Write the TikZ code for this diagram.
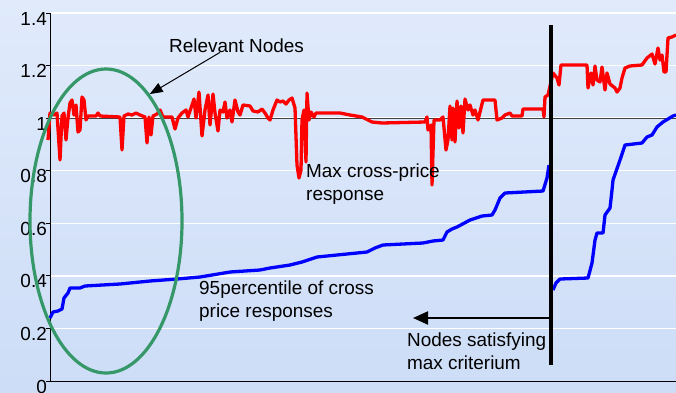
\documentclass[tikz,border=0pt]{standalone}
\usepackage{fontspec}
\setmainfont{Liberation Sans}
\usetikzlibrary{positioning, calc, arrows.meta, shapes.geometric}

\definecolor{paneltop}{RGB}{224,234,251}
\definecolor{panelbot}{RGB}{205,221,247}
\definecolor{ringgreen}{RGB}{54,152,104}

\begin{document}
\begin{tikzpicture}[x=1bp, y=-1bp, font=\fontsize{19}{23}\selectfont,
    gridline/.style={white, line width=1.5bp},
    maxline/.style={red, line width=3.3bp, line join=round},
    pctline/.style={blue, line width=3.3bp, line join=round},
    pointer/.style={-{Triangle[length=13bp,width=10bp]}, line width=1bp},
    bigpointer/.style={-{Triangle[length=15bp,width=13bp]}, line width=2.2bp},
    note/.style={anchor=base west, inner sep=0, align=left}]
    \useasboundingbox (0,0) rectangle (676,392);
    \shade[top color=paneltop, bottom color=panelbot] (0,0) rectangle (676,392);
    % grid and axes
    \foreach \k in {1,...,7}
        \draw[gridline] (50,{381-52.57*\k}) -- (676,{381-52.57*\k});
    \draw[black!75, line width=1bp] (50,118.3) -- (676,118.3);
    \draw[line width=1bp] (50,13) -- (50,381) -- (676,381);
    \foreach \k/\lab in {0/0,1/0.2,2/0.4,3/0.6,4/0.8,5/1,6/1.2,7/1.4} {
        \draw[line width=0.8bp] (46,{381-52.57*\k}) -- (50,{381-52.57*\k});
        \node[anchor=base east, inner sep=0] (ylab\k) at (47,{381-52.57*\k+12}) {\lab};
    }
    % 95 percentile
    \draw[pctline] plot[sharp plot] coordinates {(50,318) (53,312) (58,311) (62,309) (64,298) (68,293) (70,288) (80,288) (85,286) (120,284) (150,281) (177,279) (200,277) (230,272) (260,270) (270,268) (290,265) (302,262) (317,257) (347,254) (367,252) (375,248) (383,245) (423,243) (433,241) (443,240) (447,232) (452,229) (457,227) (470,220) (482,216) (492,215) (495,210) (500,198) (505,193) (543,191) (547,178) (549,165)};
    \draw[pctline] plot[sharp plot] coordinates {(553,290) (556,283) (560,279) (588,278) (592,263) (595,240) (597,233) (603,233) (605,215) (610,208) (612,190) (613,180) (620,160) (625,145) (642,143) (647,137) (652,135) (657,127) (663,122) (673,116) (676,115)};
    % max cross-price
    \draw[maxline] plot[sharp plot] coordinates {(48,140) (50,113) (54,115) (57,113) (60,160) (62,116) (64,113) (66,140) (68,118) (70,103) (72,100) (74,115) (76,105) (78,132) (80,130) (82,97) (84,100) (86,120) (88,116) (96,116) (98,113) (100,116) (120,117) (122,150) (124,116) (128,114) (132,115) (136,113) (140,115) (145,117) (147,143) (149,117) (151,135) (153,116) (157,114) (160,110) (163,117) (172,117) (175,129) (178,118) (182,113) (186,110) (188,117) (192,105) (194,99) (196,118) (199,92) (202,136) (205,110) (208,95) (210,125) (213,94) (215,113) (218,131) (220,110) (223,112) (225,102) (227,118) (230,110) (232,122) (235,100) (238,112) (240,115) (243,105) (250,106) (253,111) (258,112) (262,109) (265,113) (268,118) (270,120) (273,110) (277,100) (280,102) (283,101) (286,104) (289,100) (292,98) (295,108) (297,165) (299,178) (301,170) (302,120) (304,110) (306,162) (307,93) (309,120) (311,112) (314,117) (316,113) (340,113) (350,115) (362,117) (372,122) (382,123) (425,122) (427,117) (428,130) (431,125) (432,185) (434,120) (440,120) (443,117) (446,150) (448,140) (450,106) (452,140) (453,108) (455,142) (457,101) (459,128) (461,106) (463,133) (465,99) (468,110) (470,105) (473,115) (475,110) (478,120) (483,100) (495,100) (497,120) (502,118) (505,115) (510,113) (512,116) (522,116) (523,109) (543,109) (544,117) (545,97) (548,95) (553,73) (557,78) (559,85) (561,65) (587,65) (588,88) (591,73) (593,85) (595,66) (597,80) (600,82) (602,67) (605,90) (607,73) (610,84) (615,88) (617,92) (620,88) (622,78) (625,68) (630,66) (642,65) (647,58) (652,54) (655,64) (658,48) (660,60) (662,55) (664,72) (666,72) (668,38) (672,37) (676,35)};
    % relevant nodes ring
    \node[ellipse, draw=ringgreen, line width=3.2bp, minimum width=152bp, minimum height=304bp, inner sep=0] (ring) at (106,221) {};
    % cut between satisfying and not
    \coordinate (cutTop) at (551,25);
    \coordinate (cutBot) at (551,365);
    \draw[line width=3.6bp] (cutTop) -- (cutBot);
    \coordinate (cutArrow) at (551,318);
    \coordinate (arrowTip) at (413,318);
    \draw[bigpointer] (cutArrow) -- (arrowTip);
    % labels (base = last line)
    \node[note] (relevant) at (169,52) {Relevant Nodes};
    \draw[pointer] ([xshift=51bp]relevant.south west) -- (ring.71);
    \node[note] (maxlab) at (306,200) {Max cross-price\\response};
    \node[note] (pctlab) at (199,317) {95percentile of cross\\price responses};
    \node[note] (cutlab) at (407,369) {Nodes satisfying\\max criterium};
\end{tikzpicture}
\end{document}
